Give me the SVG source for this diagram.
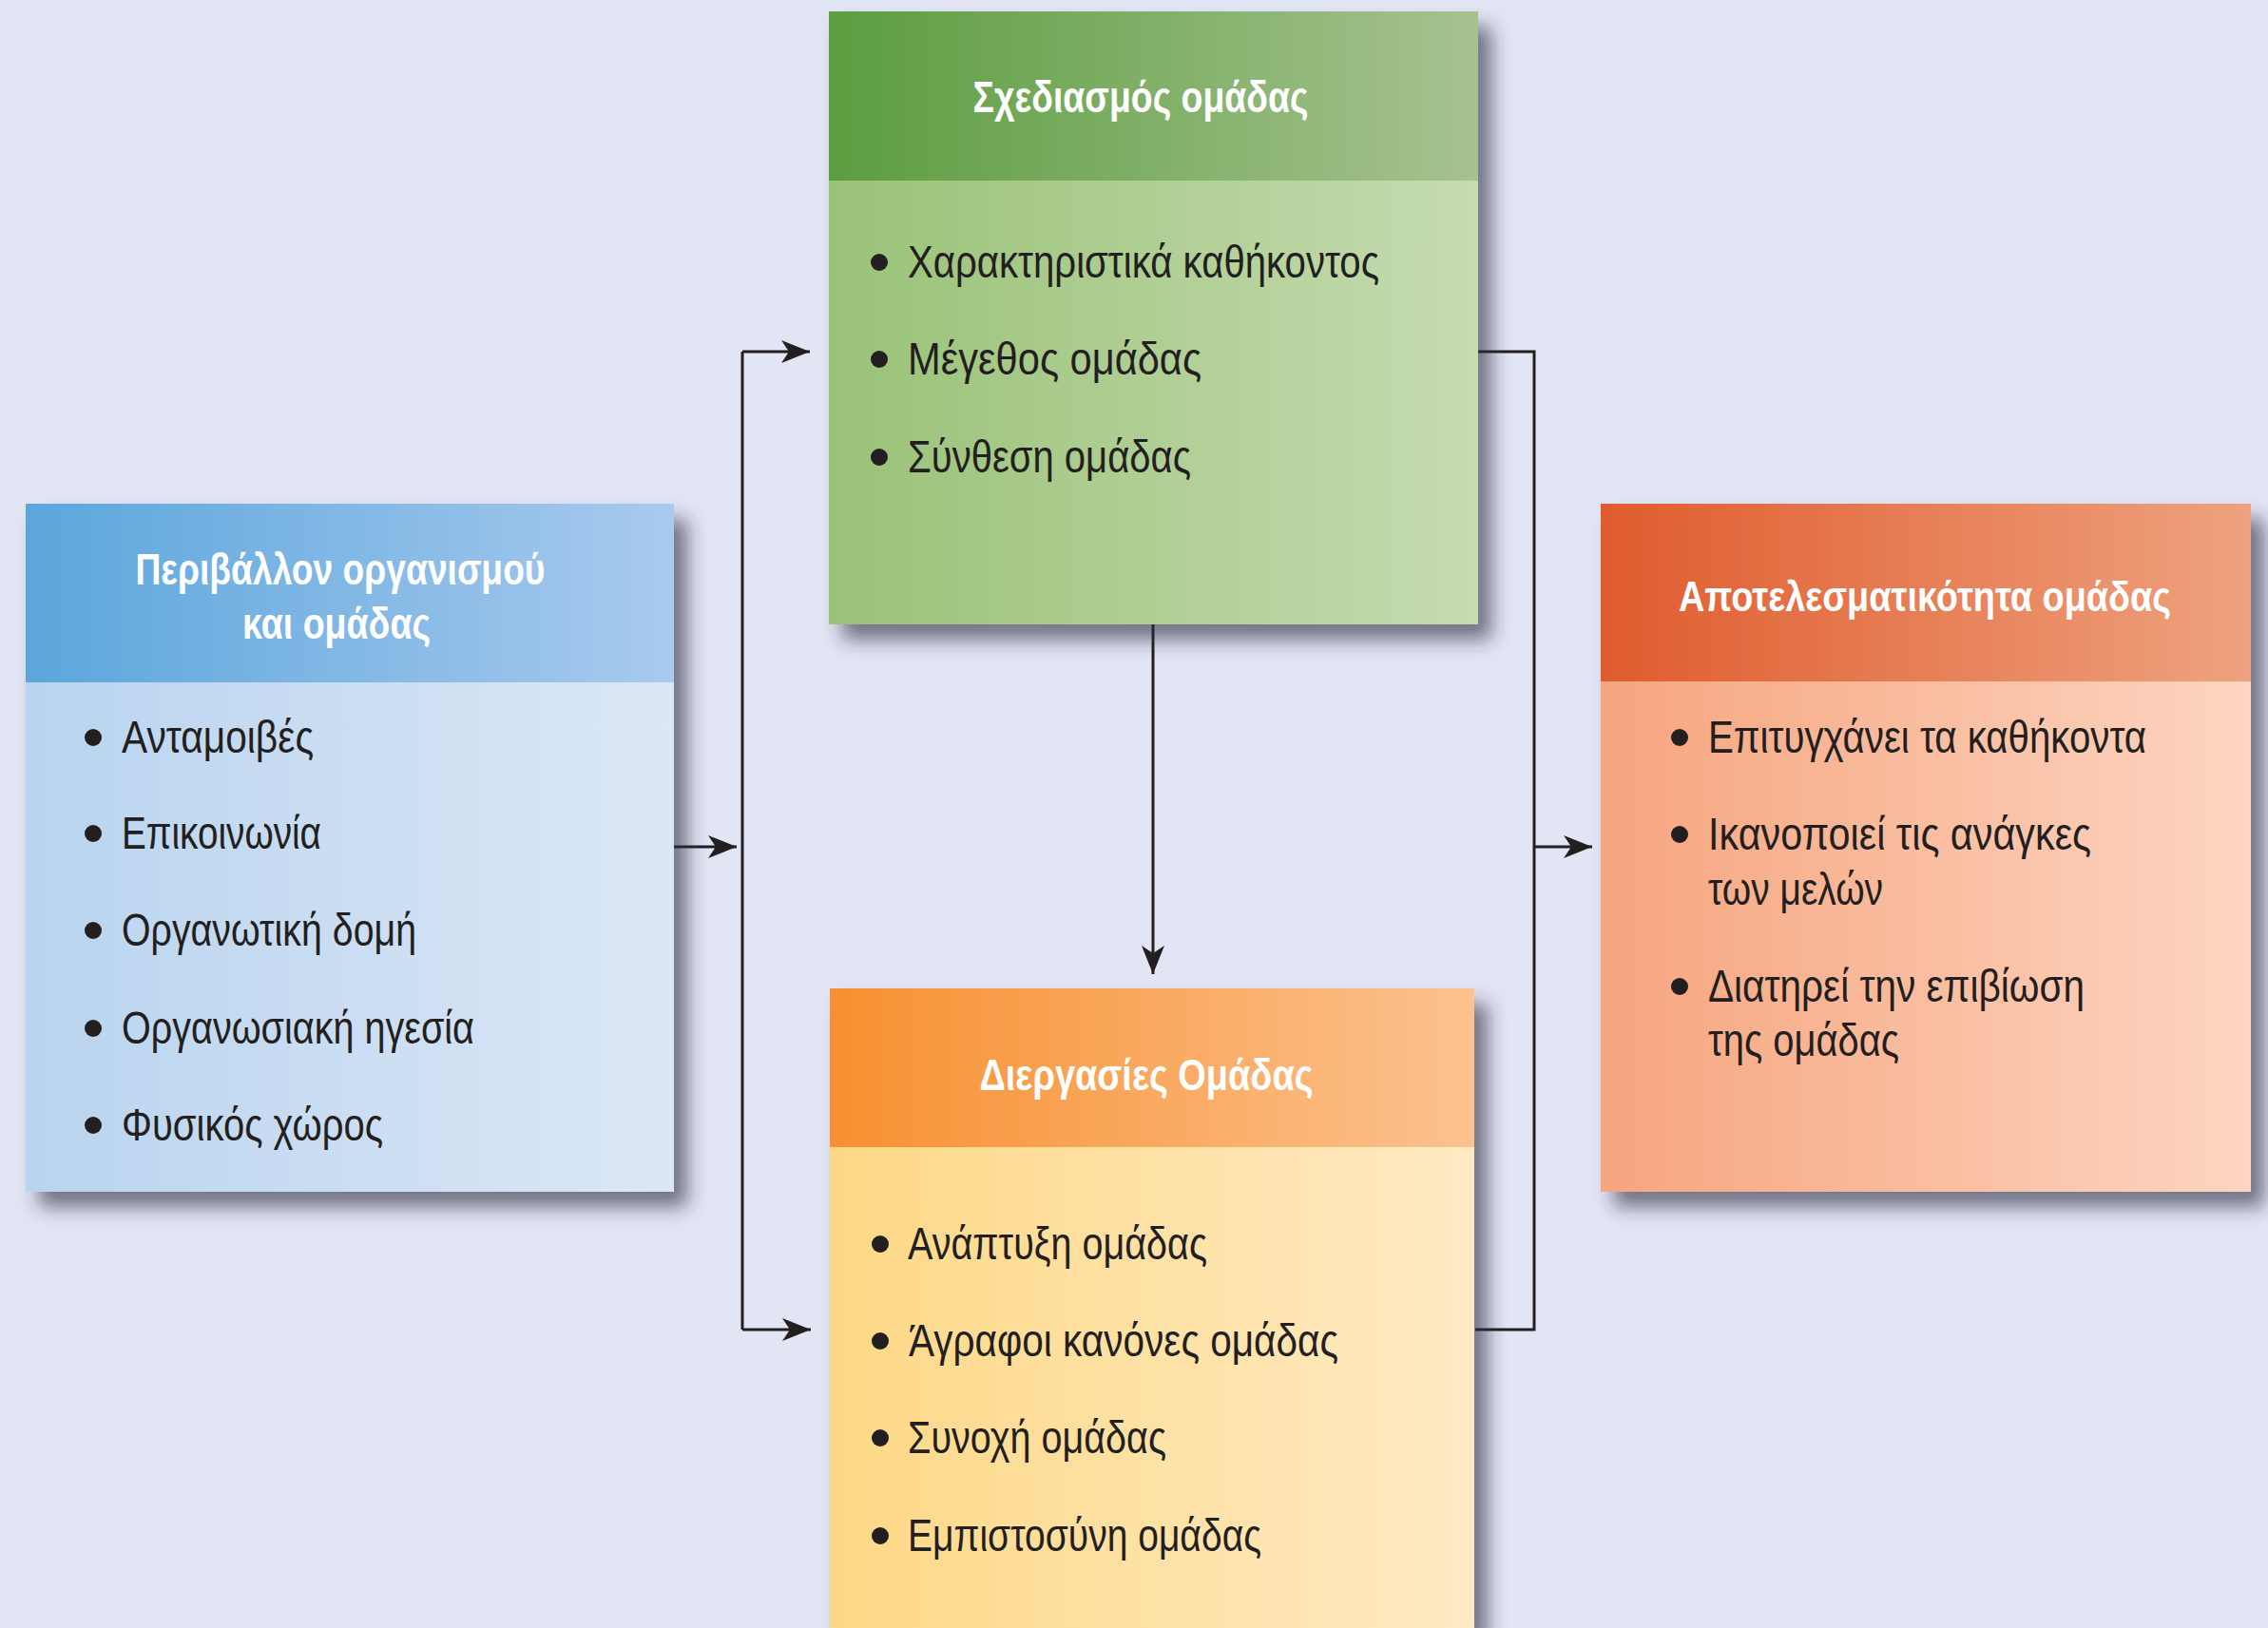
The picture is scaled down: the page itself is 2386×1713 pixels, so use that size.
<svg xmlns="http://www.w3.org/2000/svg" width="2386" height="1713" viewBox="0 0 2386 1713">
<defs>
<style>
.title{font-family:"Liberation Sans Narrow","Liberation Sans","DejaVu Sans Condensed",sans-serif;font-weight:bold;font-size:47px;fill:#ffffff;text-anchor:middle}
.item{font-family:"Liberation Sans Narrow","Liberation Sans","DejaVu Sans Condensed",sans-serif;font-size:49px;fill:#231f20}
.bul{fill:#231f20}
.conn{fill:none;stroke:#231f20;stroke-width:3}
</style>
<filter id="sh" x="-10%" y="-10%" width="130%" height="130%">
<feDropShadow dx="14" dy="16" stdDeviation="10" flood-color="#2a2d40" flood-opacity="0.62"/>
</filter>
<marker id="arr" markerUnits="userSpaceOnUse" markerWidth="32" markerHeight="26" refX="30" refY="12" orient="auto" viewBox="0 0 32 26">
<path d="M0,0 L30,12 L0,24 L8,12 z" fill="#231f20"/>
</marker>
<linearGradient id="lh" x1="0" x2="1" y1="0" y2="0"><stop offset="0" stop-color="#5ba6dc"/><stop offset="1" stop-color="#a9caee"/></linearGradient>
<linearGradient id="lb" x1="0" x2="1" y1="0" y2="0"><stop offset="0" stop-color="#b9d4ef"/><stop offset="1" stop-color="#dce7f6"/></linearGradient>
<linearGradient id="th" x1="0" x2="1" y1="0" y2="0"><stop offset="0" stop-color="#5c9d40"/><stop offset="1" stop-color="#a6c290"/></linearGradient>
<linearGradient id="tb" x1="0" x2="1" y1="0" y2="0"><stop offset="0" stop-color="#99c277"/><stop offset="1" stop-color="#c6dbb1"/></linearGradient>
<linearGradient id="rh" x1="0" x2="1" y1="0" y2="0"><stop offset="0" stop-color="#e05c2e"/><stop offset="1" stop-color="#eea27f"/></linearGradient>
<linearGradient id="rb" x1="0" x2="1" y1="0" y2="0"><stop offset="0" stop-color="#f6a57e"/><stop offset="1" stop-color="#fdd5c2"/></linearGradient>
<linearGradient id="bh" x1="0" x2="1" y1="0" y2="0"><stop offset="0" stop-color="#f79030"/><stop offset="1" stop-color="#fcc28f"/></linearGradient>
<linearGradient id="bb" x1="0" x2="1" y1="0" y2="0"><stop offset="0" stop-color="#fdd886"/><stop offset="1" stop-color="#ffeac4"/></linearGradient>
</defs>
<rect x="0" y="0" width="2386" height="1713" fill="#e2e5f4"/>

<g id="connectors">
<path class="conn" d="M709,891 H775" marker-end="url(#arr)"/>
<path class="conn" d="M781,370 V1399"/>
<path class="conn" d="M781,370 H852" marker-end="url(#arr)"/>
<path class="conn" d="M781,1399 H853" marker-end="url(#arr)"/>
<path class="conn" d="M1213,657 V1025" marker-end="url(#arr)"/>
<path class="conn" d="M1555,370 H1614 V1399 H1552"/>
<path class="conn" d="M1614,891 H1675" marker-end="url(#arr)"/>
</g>

<g id="node-environment">
<g filter="url(#sh)">
<rect x="27" y="530" width="682" height="188" fill="url(#lh)"/>
<rect x="27" y="718" width="682" height="536" fill="url(#lb)"/>
</g>
<text class="title" x="358" y="615" textLength="431" lengthAdjust="spacingAndGlyphs">Περιβάλλον οργανισμού</text>
<text class="title" x="354" y="672" textLength="198" lengthAdjust="spacingAndGlyphs">και ομάδας</text>
<circle class="bul" cx="98" cy="776" r="9"/><text class="item" x="128" y="792" textLength="202" lengthAdjust="spacingAndGlyphs">Ανταμοιβές</text>
<circle class="bul" cx="98" cy="877" r="9"/><text class="item" x="128" y="893" textLength="210" lengthAdjust="spacingAndGlyphs">Επικοινωνία</text>
<circle class="bul" cx="98" cy="979" r="9"/><text class="item" x="128" y="995" textLength="310" lengthAdjust="spacingAndGlyphs">Οργανωτική δομή</text>
<circle class="bul" cx="98" cy="1082" r="9"/><text class="item" x="128" y="1098" textLength="371" lengthAdjust="spacingAndGlyphs">Οργανωσιακή ηγεσία</text>
<circle class="bul" cx="98" cy="1184" r="9"/><text class="item" x="128" y="1200" textLength="275" lengthAdjust="spacingAndGlyphs">Φυσικός χώρος</text>
</g>

<g id="node-design">
<g filter="url(#sh)">
<rect x="872" y="12" width="683" height="178" fill="url(#th)"/>
<rect x="872" y="190" width="683" height="467" fill="url(#tb)"/>
</g>
<text class="title" x="1200" y="118" textLength="353" lengthAdjust="spacingAndGlyphs">Σχεδιασμός ομάδας</text>
<circle class="bul" cx="925" cy="276" r="9"/><text class="item" x="955" y="292" textLength="496" lengthAdjust="spacingAndGlyphs">Χαρακτηριστικά καθήκοντος</text>
<circle class="bul" cx="925" cy="378" r="9"/><text class="item" x="955" y="394" textLength="309" lengthAdjust="spacingAndGlyphs">Μέγεθος ομάδας</text>
<circle class="bul" cx="925" cy="481" r="9"/><text class="item" x="955" y="497" textLength="298" lengthAdjust="spacingAndGlyphs">Σύνθεση ομάδας</text>
</g>

<g id="node-effectiveness">
<g filter="url(#sh)">
<rect x="1684" y="530" width="684" height="187" fill="url(#rh)"/>
<rect x="1684" y="717" width="684" height="537" fill="url(#rb)"/>
</g>
<text class="title" x="2025" y="643" textLength="518" lengthAdjust="spacingAndGlyphs" style="font-size:44px">Αποτελεσματικότητα ομάδας</text>
<circle class="bul" cx="1767" cy="776" r="9"/><text class="item" x="1797" y="792" textLength="461" lengthAdjust="spacingAndGlyphs">Επιτυγχάνει τα καθήκοντα</text>
<circle class="bul" cx="1767" cy="878" r="9"/><text class="item" x="1797" y="894" textLength="403" lengthAdjust="spacingAndGlyphs">Ικανοποιεί τις ανάγκες</text>
<text class="item" x="1797" y="952" textLength="184" lengthAdjust="spacingAndGlyphs">των μελών</text>
<circle class="bul" cx="1767" cy="1038" r="9"/><text class="item" x="1797" y="1054" textLength="396" lengthAdjust="spacingAndGlyphs">Διατηρεί την επιβίωση</text>
<text class="item" x="1797" y="1111" textLength="201" lengthAdjust="spacingAndGlyphs">της ομάδας</text>
</g>

<g id="node-processes">
<g filter="url(#sh)">
<rect x="873" y="1040" width="678" height="167" fill="url(#bh)"/>
<rect x="873" y="1207" width="678" height="506" fill="url(#bb)"/>
</g>
<text class="title" x="1206" y="1147" textLength="351" lengthAdjust="spacingAndGlyphs">Διεργασίες Ομάδας</text>
<circle class="bul" cx="926" cy="1309" r="9"/><text class="item" x="955" y="1325" textLength="315" lengthAdjust="spacingAndGlyphs">Ανάπτυξη ομάδας</text>
<circle class="bul" cx="926" cy="1411" r="9"/><text class="item" x="956" y="1427" textLength="452" lengthAdjust="spacingAndGlyphs">Άγραφοι κανόνες ομάδας</text>
<circle class="bul" cx="926" cy="1513" r="9"/><text class="item" x="955" y="1529" textLength="272" lengthAdjust="spacingAndGlyphs">Συνοχή ομάδας</text>
<circle class="bul" cx="926" cy="1616" r="9"/><text class="item" x="955" y="1632" textLength="372" lengthAdjust="spacingAndGlyphs">Εμπιστοσύνη ομάδας</text>
</g>
</svg>
